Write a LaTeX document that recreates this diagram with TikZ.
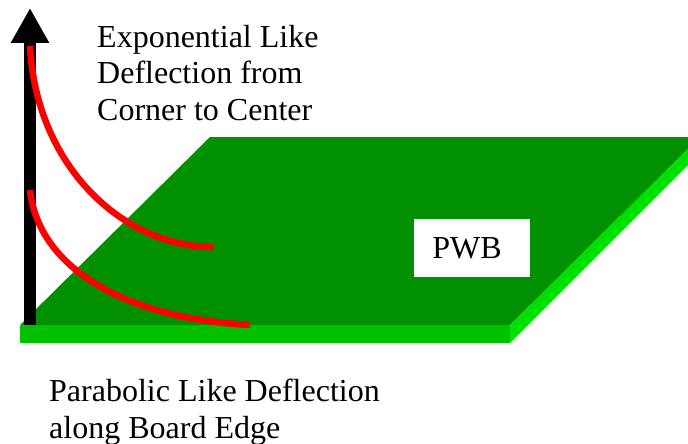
\documentclass[tikz,border=0pt]{standalone}
\usepackage{fontspec}
\setmainfont{Liberation Serif}
\usetikzlibrary{calc, arrows.meta}
\definecolor{boardtop}{RGB}{0,144,0}
\definecolor{boardfront}{RGB}{0,192,0}
\definecolor{boardside}{RGB}{0,224,0}
\tikzset{
  caption/.style={inner sep=0pt,align=left,anchor=base west,font=\fontsize{32}{36.5}\selectfont},
  deflection/.style={draw=red,line width=6.5pt},
}
\begin{document}
\begin{tikzpicture}[x=1pt,y=-1pt]
\useasboundingbox (0,0) rectangle (688,444);
% board
\fill [boardtop] (210,137) -- (688,137) -- (688,149) -- (510,325) -- (20,325) -- cycle;
\fill [boardfront,rounded corners=1pt] (20,325) rectangle (510,343);
\fill [boardside] (510,325) -- (688,149) -- (688,165) -- (510,343) -- cycle;
\node [fill=white,minimum width=116pt,minimum height=58pt,inner sep=0pt,font=\fontsize{32}{36}\selectfont] (PWB) at (472,248) {\hspace*{-10pt}PWB};
% axis
\coordinate (Ubot) at (30,325);
\coordinate (Utop) at (30,8);
\draw [line width=12pt,-{Triangle[length=35pt,width=36pt]}] (Ubot) -- (Utop);
% curves
\coordinate (E1) at (30,46);
\coordinate (E2) at (213,247);
\coordinate (P1) at (30,190);
\coordinate (P2) at (250,325);
\draw [deflection] (E1) .. controls ($ (E1) + (6,120) $) and ($ (E2) + (-90,0) $) .. (E2);
\draw [deflection] (P1) .. controls ($ (P1) + (8,75) $) and ($ (P2) + (-130,-7) $) .. (P2);
% text
\node [caption] (Eq) at (97,120) {Exponential Like\\Deflection from\\Corner to Center};
\node [caption] (Pq) at (49,438) {Parabolic Like Deflection\\along Board Edge};
\end{tikzpicture}
\end{document}
